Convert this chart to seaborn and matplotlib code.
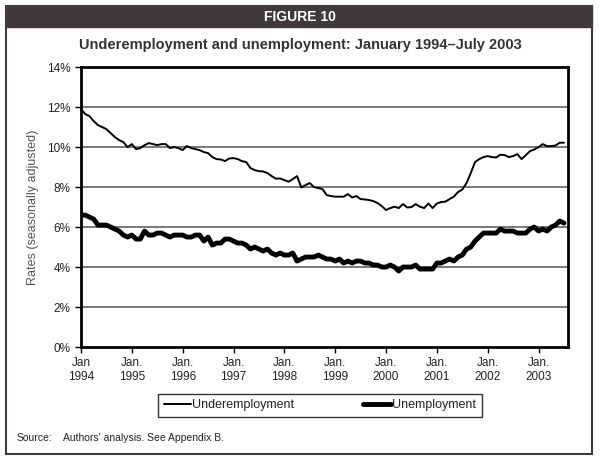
#!/usr/bin/env python3

import pandas as pd
import seaborn as sns
import matplotlib.pyplot as plt
from matplotlib.patches import Rectangle

# monthly values, Jan 1994 .. Jul 2003 (percent)
underemployment = [
    11.9, 11.65, 11.55, 11.3, 11.1, 11.0, 10.9, 10.7, 10.5, 10.35, 10.25, 10.0,   # 1994
    10.15, 9.9, 9.95, 10.1, 10.2, 10.15, 10.1, 10.15, 10.15, 9.95, 10.0, 9.95,    # 1995
    9.85, 10.05, 9.95, 9.9, 9.85, 9.75, 9.7, 9.5, 9.4, 9.38, 9.3, 9.43,           # 1996
    9.45, 9.4, 9.3, 9.25, 8.95, 8.85, 8.8, 8.78, 8.7, 8.55, 8.42, 8.43,           # 1997
    8.35, 8.27, 8.4, 8.55, 7.98, 8.1, 8.2, 8.0, 7.95, 7.9, 7.6, 7.55,             # 1998
    7.52, 7.52, 7.52, 7.65, 7.48, 7.55, 7.4, 7.38, 7.35, 7.3, 7.2, 7.05,          # 1999
    6.85, 6.95, 7.02, 6.95, 7.15, 6.98, 7.0, 7.15, 7.02, 6.95, 7.18, 6.95,        # 2000
    7.18, 7.25, 7.27, 7.4, 7.52, 7.75, 7.88, 8.2, 8.7, 9.25, 9.4, 9.5,            # 2001
    9.55, 9.5, 9.48, 9.62, 9.6, 9.5, 9.55, 9.65, 9.4, 9.6, 9.8, 9.88,             # 2002
    10.0, 10.15, 10.05, 10.05, 10.08, 10.22, 10.22,                               # 2003
]
unemployment = [
    6.6, 6.6, 6.5, 6.4, 6.1, 6.1, 6.1, 6.0, 5.9, 5.8, 5.6, 5.5,
    5.6, 5.4, 5.4, 5.8, 5.6, 5.6, 5.7, 5.7, 5.6, 5.5, 5.6, 5.6,
    5.6, 5.5, 5.5, 5.6, 5.6, 5.3, 5.5, 5.1, 5.2, 5.2, 5.4, 5.4,
    5.3, 5.2, 5.2, 5.1, 4.9, 5.0, 4.9, 4.8, 4.9, 4.7, 4.6, 4.7,
    4.6, 4.6, 4.7, 4.3, 4.4, 4.5, 4.5, 4.5, 4.6, 4.5, 4.4, 4.4,
    4.3, 4.4, 4.2, 4.3, 4.2, 4.3, 4.3, 4.2, 4.2, 4.1, 4.1, 4.0,
    4.0, 4.1, 4.0, 3.8, 4.0, 4.0, 4.0, 4.1, 3.9, 3.9, 3.9, 3.9,
    4.2, 4.2, 4.3, 4.4, 4.3, 4.5, 4.6, 4.9, 5.0, 5.3, 5.5, 5.7,
    5.7, 5.7, 5.7, 5.9, 5.8, 5.8, 5.8, 5.7, 5.7, 5.7, 5.9, 6.0,
    5.8, 5.9, 5.8, 6.0, 6.1, 6.3, 6.2,
]
years = list(range(1994, 2004))
tick_labels = ["Jan\n1994"] + [f"Jan.\n{y}" for y in years[1:]]


def main():
    df = pd.DataFrame({
        "month": list(range(len(unemployment))),
        "Underemployment": underemployment,
        "Unemployment": unemployment,
    })

    sns.set_style("white")
    plt.rcParams["font.family"] = ["Liberation Sans", "DejaVu Sans"]

    fig = plt.figure(figsize=(6, 4.63), dpi=100)
    ax = fig.add_axes([0.135, 0.2505, 0.812, 0.6045])

    # outer frame + header bar
    fig.patches.append(Rectangle((0.01, 0.0194), 0.977, 0.9676, transform=fig.transFigure,
                                 fill=False, edgecolor="#44393a", lw=1.5, zorder=0))
    fig.patches.append(Rectangle((0.01, 0.9417), 0.977, 0.0454, transform=fig.transFigure,
                                 facecolor="#44393a", edgecolor="#44393a", zorder=0))
    fig.text(0.5, 0.963, "FIGURE 10", color="white", fontsize=10, fontweight="bold",
             ha="center", va="center")
    fig.text(0.5, 0.903, "Underemployment and unemployment: January 1994\u2013July 2003",
             color="#333333", fontsize=10.5, fontweight="bold", ha="center", va="center")

    for y in range(2, 14, 2):
        ax.axhline(y, color="#555555", lw=1.1, zorder=1)

    sns.lineplot(data=df, x="month", y="Underemployment", ax=ax, color="black",
                 lw=1.4, label="Underemployment", zorder=3)
    sns.lineplot(data=df, x="month", y="Unemployment", ax=ax, color="black",
                 lw=3.5, label="Unemployment", zorder=3)

    ax.set_xlim(0, 115)
    ax.set_ylim(0, 14)
    ax.set_xticks(range(0, 109, 12))
    ax.set_xticklabels(tick_labels)
    ax.set_yticks(range(0, 15, 2))
    ax.set_yticklabels([f"{v}%" for v in range(0, 15, 2)])
    ax.tick_params(axis="both", direction="out", length=4, width=1, color="black",
                   labelsize=8.5, labelcolor="#222222", bottom=True, left=True)
    ax.tick_params(axis="x", pad=3)
    ax.set_xlabel("")
    ax.set_ylabel("Rates (seasonally adjusted)", color="#555555", fontsize=9, labelpad=6)
    for s in ax.spines.values():
        s.set_color("black")
        s.set_linewidth(2)

    ax.get_legend().remove()
    handles, labels = ax.get_legend_handles_labels()
    leg = fig.legend(handles, labels, loc="center", bbox_to_anchor=(0.533, 0.125), ncol=2,
                     frameon=True, fancybox=False, fontsize=9, columnspacing=5.5,
                     handlelength=2.2, handletextpad=0.1, borderpad=0.45)
    leg.get_frame().set_edgecolor("black")
    leg.get_frame().set_linewidth(1)
    for t in leg.get_texts():
        t.set_color("#222222")

    fig.text(0.028, 0.054, "Source:", fontsize=7.5, color="#222222", va="center")
    fig.text(0.105, 0.054, "Authors' analysis. See Appendix B.", fontsize=7.5,
             color="#222222", va="center")

    plt.savefig("out.png", dpi=100)


if __name__ == "__main__":
    main()
